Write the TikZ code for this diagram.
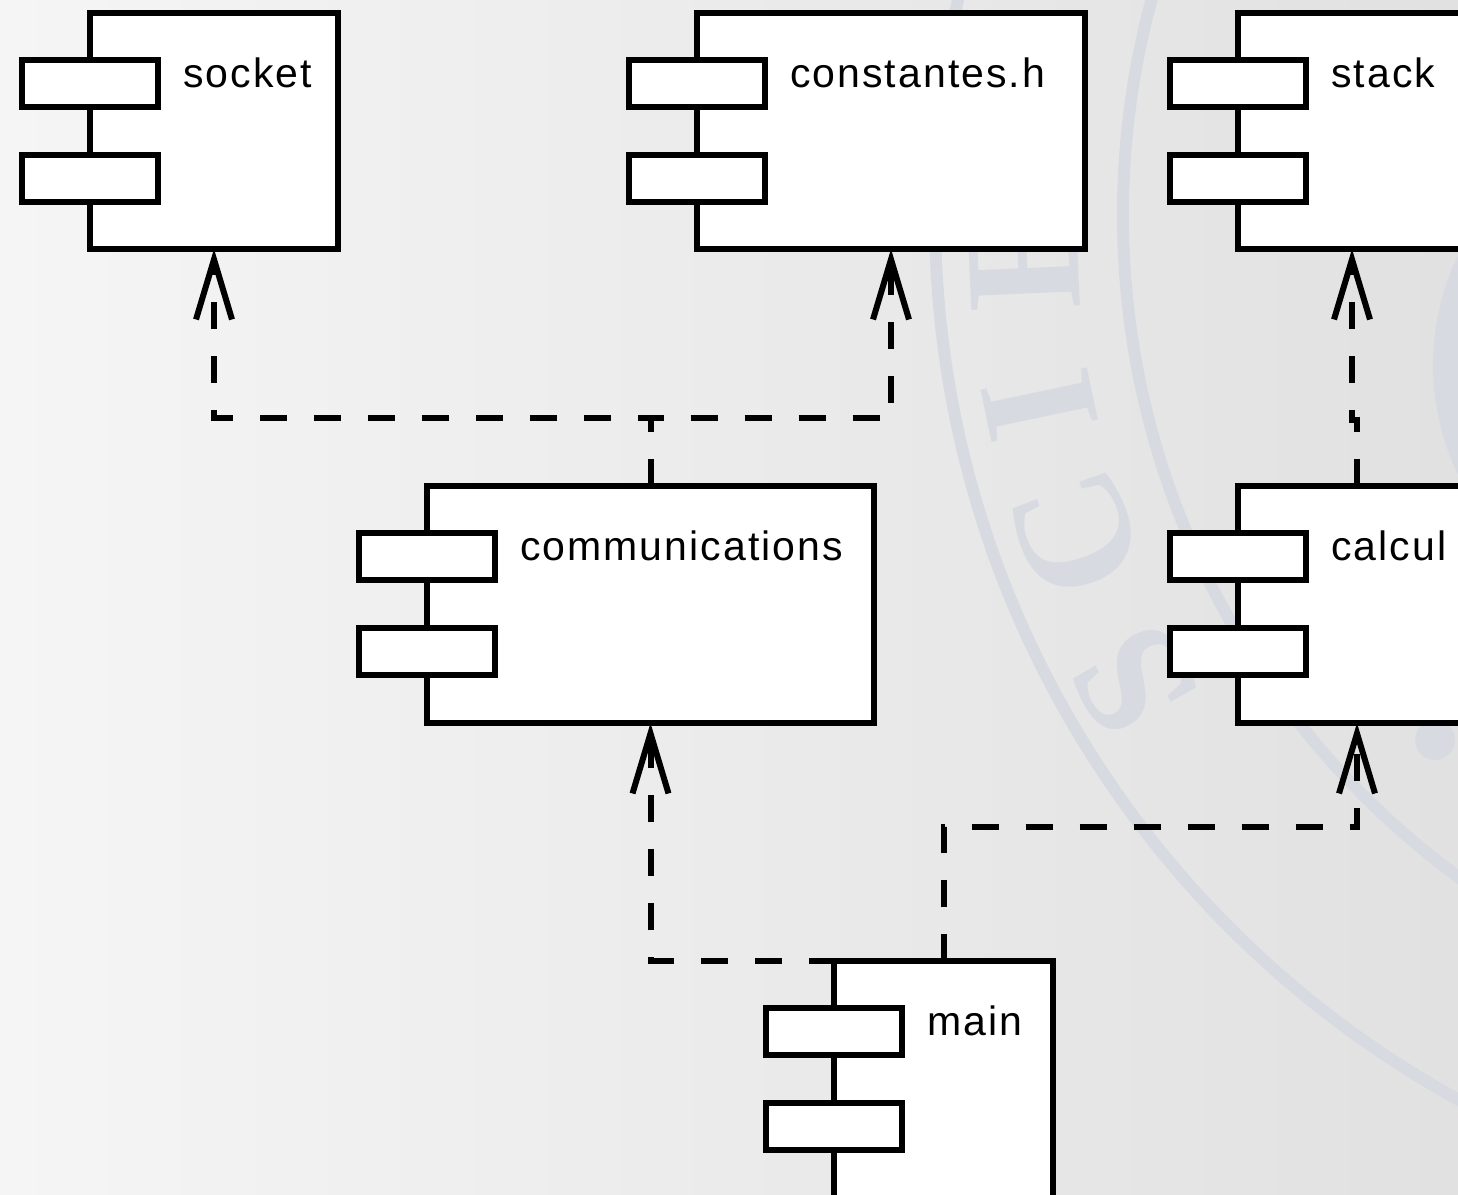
\documentclass[tikz,border=0pt]{standalone}
\usepackage{fontspec}
\setmainfont{Liberation Sans}
\newfontfamily\labelfont[LetterSpace=5]{Liberation Sans}
\newfontfamily\sealfont{Liberation Serif}
\usetikzlibrary{arrows.meta}

\definecolor{bgleft}{RGB}{245,245,245}
\definecolor{bgright}{RGB}{225,225,225}
\definecolor{seal}{RGB}{215,219,225}

\tikzset{
  body/.style={draw=black, fill=white, line width=6pt, rectangle,
    inner sep=0pt, outer sep=0pt},
  port/.style={draw=black, fill=white, line width=6pt, rectangle,
    inner sep=0pt, outer sep=0pt, minimum width=136pt, minimum height=47pt},
  compname/.style={anchor=base west, inner sep=0pt,
    font=\labelfont\fontsize{41}{48}\selectfont},
  dep/.style={line width=6pt, dash pattern=on 27pt off 27pt,
    -{Straight Barb[length=60pt,width=36pt]}},
  sealline/.style={draw=seal, line width=12pt},
  sealletter/.style={text=seal, inner sep=0pt,
    font=\sealfont\bfseries\fontsize{166}{166}\selectfont},
}

% UML component: name, left, top, right, bottom, label
\newcommand\umlcomp[6]{%
  \node[body, minimum width={(#4-#2)*1pt}, minimum height={(#5-#3)*1pt}]
    (#1) at ({(#2+#4)/2},{(#3+#5)/2}) {};
  \node[port] (#1-a) at ({#2},{#3+70.5}) {};
  \node[port] (#1-b) at ({#2},{#3+165.5}) {};
  \node[compname] (#1-label) at ({#2+93},{#3+74}) {#6};
}

\begin{document}
\begin{tikzpicture}[x=1pt,y=-1pt]
\useasboundingbox (0,0) rectangle (1458,1194);
\clip (0,0) rectangle (1458,1194);

% background
\shade[left color=bgleft, right color=bgright] (0,0) rectangle (1458,1194);

% faint seal in the background
\coordinate (seal-centre) at (1944,215);
\draw[sealline] (seal-centre) circle[radius=1009pt];
\draw[sealline] (seal-centre) circle[radius=821pt];
\fill[seal] (1685,365) circle[radius=252pt];
\fill[seal] (1435,740) circle[radius=20pt];
\node[sealletter, rotate=92.5]  (seal-e) at (1024,256) {E};
\node[sealletter, rotate=101.9] (seal-i) at (1040,405) {I};
\node[sealletter, rotate=110.2] (seal-c) at (1076,534) {C};
\node[sealletter, rotate=119.9] (seal-s) at (1135,680) {S};

% components
\umlcomp{socket}{90}{13}{338}{249}{socket}
\umlcomp{constantes}{697}{13}{1085}{249}{constantes.h}
\umlcomp{stack}{1238}{13}{1466}{249}{stack}
\umlcomp{communications}{427}{486}{874}{723}{communications}
\umlcomp{calcul}{1238}{486}{1476}{723}{calcul}
\umlcomp{main}{834}{961}{1053}{1260}{main}

% dependencies
\draw[dep] (communications.north) -- ++(0,-68) -| (socket.south);
\draw[dep] (communications.north) -- ++(0,-68) -| (constantes.south);
\draw[dep] (calcul.north) -- ++(0,-66) -| (stack.south);
\draw[dep] (main.north) -| (communications.south);
\draw[dep] (main.north) -- ++(0,-134) -| (calcul.south);
\end{tikzpicture}
\end{document}
